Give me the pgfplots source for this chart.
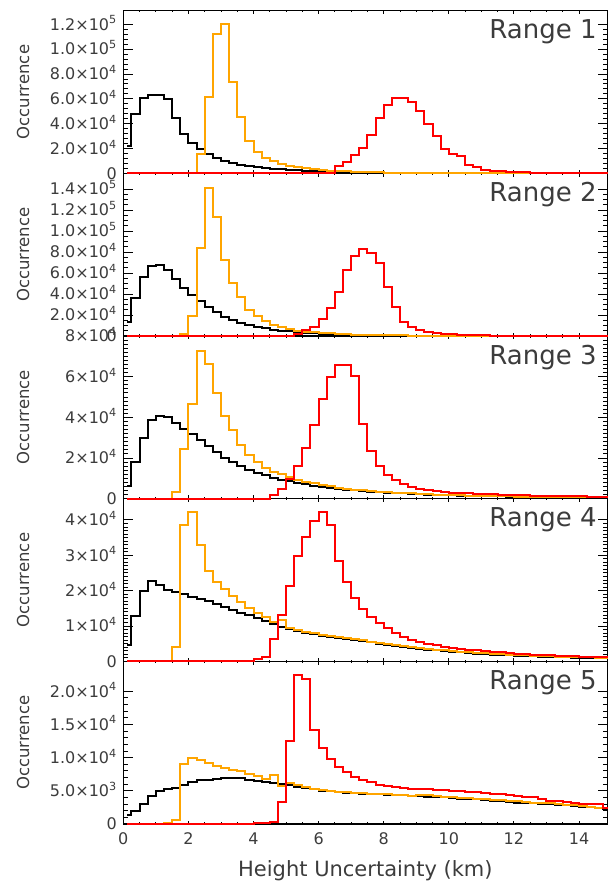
\documentclass[border=0pt]{standalone}
\usepackage{fontspec}
\setmainfont{DejaVu Sans}
\usepackage{pgfplots}
\pgfplotsset{compat=1.18}
\usepackage{pgfplotstable}
\definecolor{orng}{RGB}{255,165,0}
\definecolor{txt}{RGB}{60,60,60}
\newcommand{\E}[2]{#1×10\textsuperscript{#2}}

% values in thousands of occurrences, bin centres in km
\pgfplotstableread{
x b o r
0.125 21.7 0 0
0.375 47.7 0 0
0.625 60.4 0 0
0.875 63.1 0 0
1.125 63.1 0 0
1.375 59.9 0 0
1.625 44.7 0 0
1.875 32.0 0 0
2.125 24.4 0 0
2.375 19.8 15.7 0
2.625 15.7 61.8 0
2.875 12.5 111.9 0
3.125 10.3 120.0 0
3.375 8.4 73.2 0
3.625 6.8 45.5 0
3.875 5.8 25.7 0
4.125 5.0 17.1 0
4.375 4.3 12.5 0
4.625 3.7 9.8 0
4.875 3.2 7.6 0
5.125 2.7 6.2 0
5.375 2.3 4.9 0
5.625 2.0 4.0 0
5.875 1.7 3.3 0
6.125 1.4 2.7 0
6.375 1.2 2.2 0
6.625 1.0 1.8 5.7
6.875 0.85 1.5 8.9
7.125 0.7 1.2 14.4
7.375 0.6 1.0 20.3
7.625 0.5 0.8 30.6
7.875 0.42 0.7 44.2
8.125 0.35 0.6 55.0
8.375 0.3 0.5 61.0
8.625 0.25 0.4 60.5
8.875 0.2 0.35 57.7
9.125 0.18 0.3 50.4
9.375 0.15 0.25 39.6
9.625 0.13 0.2 29.8
9.875 0.11 0.18 19.8
10.125 0.1 0.15 15.2
10.375 0.1 0.13 13.6
10.625 0.09 0.11 7.0
10.875 0.08 0.1 4.9
11.125 0.07 0.09 3.0
11.375 0.06 0.08 2.2
11.625 0.05 0.07 1.6
11.875 0.05 0.06 1.2
12.125 0.04 0.05 0.9
12.375 0.04 0.05 0.7
12.625 0.03 0.04 0.5
12.875 0.03 0.04 0.4
13.125 0.03 0.03 0.3
13.375 0.02 0.03 0.25
13.625 0.02 0.03 0.2
13.875 0.02 0.02 0.15
14.125 0.02 0.02 0.12
14.375 0.01 0.02 0.1
14.625 0.01 0.02 0.08
14.875 0.01 0.01 0.06
}\tA

\pgfplotstableread{
x b o r
0.125 13.0 0 0
0.375 36.2 0 0
0.625 56.5 0 0
0.875 66.3 0 0
1.125 67.6 0 0
1.375 63.2 0 0
1.625 54.3 0 0
1.875 45.7 2.0 0
2.125 39.4 18.7 0
2.375 33.0 83.8 0
2.625 27.3 141.0 0
2.875 22.5 113.7 0
3.125 18.4 72.4 0
3.375 15.2 50.5 0
3.625 12.7 36.8 0
3.875 10.5 24.8 0
4.125 8.9 18.7 0
4.375 7.4 14.0 0
4.625 6.2 10.8 0
4.875 5.2 8.3 0
5.125 4.4 6.3 0
5.375 3.7 5.1 2.0
5.625 3.1 4.2 5.7
5.875 2.6 3.5 8.9
6.125 2.2 3.0 16.2
6.375 1.8 2.5 26.7
6.625 1.5 2.0 41.6
6.875 1.3 1.7 62.9
7.125 1.1 1.4 76.5
7.375 0.9 1.2 82.9
7.625 0.75 1.0 79.4
7.875 0.6 0.85 69.2
8.125 0.5 0.7 46.3
8.375 0.45 0.6 27.3
8.625 0.4 0.5 13.7
8.875 0.35 0.45 8.3
9.125 0.3 0.4 5.7
9.375 0.25 0.35 4.0
9.625 0.22 0.3 3.0
9.875 0.2 0.25 2.2
10.125 0.17 0.22 1.6
10.375 0.15 0.2 1.2
10.625 0.13 0.18 0.9
10.875 0.12 0.16 0.7
11.125 0.1 0.14 0.5
11.375 0.09 0.12 0.4
11.625 0.08 0.11 0.3
11.875 0.07 0.1 0.25
12.125 0.06 0.09 0.2
12.375 0.06 0.08 0.15
12.625 0.05 0.07 0.12
12.875 0.05 0.06 0.1
13.125 0.04 0.05 0.08
13.375 0.04 0.05 0.07
13.625 0.03 0.04 0.06
13.875 0.03 0.04 0.05
14.125 0.03 0.03 0.04
14.375 0.02 0.03 0.03
14.625 0.02 0.03 0.03
14.875 0.02 0.02 0.02
}\tB

\pgfplotstableread{
x b o r
0.125 6.1 0 0
0.375 18.1 0 0
0.625 30.0 0 0
0.875 38.6 0 0
1.125 40.9 0 0
1.375 40.3 0 0
1.625 37.0 3.3 0
1.875 34.3 24.3 0
2.125 32.0 46.5 0
2.375 29.1 72.8 0
2.625 25.8 66.2 0
2.875 23.0 52.1 0
3.125 20.0 40.6 0
3.375 17.8 33.7 0
3.625 15.9 26.3 0
3.875 14.1 21.4 0
4.125 12.6 18.1 0
4.375 11.4 15.3 0
4.625 10.3 13.1 1.6
4.875 9.4 12.3 4.9
5.125 8.6 10.7 9.9
5.375 7.9 9.3 15.9
5.625 7.1 8.3 25.1
5.875 6.4 7.5 36.2
6.125 5.8 6.6 48.8
6.375 5.3 6.0 60.0
6.625 4.9 5.4 65.7
6.875 4.5 4.9 65.7
7.125 4.1 4.5 60.3
7.375 3.8 4.1 36.5
7.625 3.5 3.8 23.3
7.875 3.2 3.5 15.9
8.125 3.0 3.3 11.5
8.375 2.8 3.0 9.0
8.625 2.6 2.8 7.1
8.875 2.4 2.6 5.8
9.125 2.2 2.4 4.9
9.375 2.0 2.2 4.3
9.625 1.85 2.0 3.8
9.875 1.7 1.9 3.4
10.125 1.6 1.8 3.0
10.375 1.5 1.65 2.8
10.625 1.4 1.5 2.6
10.875 1.3 1.4 2.4
11.125 1.2 1.3 2.2
11.375 1.15 1.2 2.1
11.625 1.1 1.15 2.0
11.875 1.05 1.1 1.85
12.125 1.0 1.05 1.7
12.375 0.95 1.0 1.6
12.625 0.9 0.95 1.5
12.875 0.85 0.9 1.4
13.125 0.8 0.85 1.35
13.375 0.78 0.8 1.3
13.625 0.75 0.78 1.2
13.875 0.72 0.75 1.15
14.125 0.7 0.72 1.1
14.375 0.67 0.7 1.05
14.625 0.65 0.67 1.0
14.875 0.62 0.64 0.95
}\tC

\pgfplotstableread{
x b o r
0.125 4.5 0 0
0.375 12.9 0 0
0.625 20.0 0 0
0.875 22.6 0 0
1.125 21.6 0 0
1.375 20.2 0 0
1.625 19.5 4.0 0
1.875 19.0 38.6 0
2.125 18.3 42.1 0
2.375 17.7 32.9 0
2.625 17.0 25.6 0
2.875 16.2 22.4 0
3.125 15.4 20.5 0
3.375 14.6 18.6 0
3.625 13.8 16.7 0
3.875 13.0 15.0 0
4.125 12.2 13.8 0.7
4.375 11.4 12.5 1.3
4.625 10.6 11.1 6.2
4.875 9.8 11.8 13.2
5.125 9.1 9.3 21.4
5.375 8.6 8.8 29.7
5.625 8.1 8.3 35.1
5.875 7.7 7.9 39.7
6.125 7.3 7.5 42.1
6.375 7.0 7.2 38.6
6.625 6.7 6.9 28.5
6.875 6.4 6.6 22.4
7.125 6.1 6.3 18.0
7.375 5.7 5.9 14.7
7.625 5.4 5.6 12.6
7.875 5.0 5.2 10.9
8.125 4.7 4.9 9.4
8.375 4.4 4.6 8.1
8.625 4.1 4.3 6.9
8.875 3.8 4.0 6.1
9.125 3.5 3.7 5.4
9.375 3.3 3.5 4.9
9.625 3.1 3.3 4.5
9.875 2.9 3.1 4.1
10.125 2.7 2.9 3.8
10.375 2.5 2.7 3.5
10.625 2.35 2.55 3.3
10.875 2.2 2.4 3.1
11.125 2.05 2.25 2.9
11.375 1.9 2.1 2.7
11.625 1.8 2.0 2.5
11.875 1.7 1.9 2.3
12.125 1.6 1.8 2.2
12.375 1.5 1.7 2.0
12.625 1.4 1.6 1.9
12.875 1.3 1.5 1.8
13.125 1.2 1.4 1.7
13.375 1.15 1.3 1.6
13.625 1.1 1.25 1.5
13.875 1.05 1.2 1.4
14.125 1.0 1.15 1.3
14.375 0.95 1.1 1.2
14.625 0.9 1.05 1.2
14.875 0.85 1.0 1.1
}\tD

\pgfplotstableread{
x b o r
0.125 1.4 0 0
0.375 2.0 0 0
0.625 3.0 0 0
0.875 4.2 0 0
1.125 5.0 0 0
1.375 5.2 0.2 0
1.625 5.4 0.6 0
1.875 5.9 9.06 0
2.125 6.4 9.87 0
2.375 6.6 9.62 0
2.625 6.7 9.2 0
2.875 6.8 8.8 0
3.125 7.0 8.45 0
3.375 7.0 8.2 0
3.625 6.9 7.95 0
3.875 6.7 7.6 0
4.125 6.5 7.3 0.1
4.375 6.35 6.8 0.15
4.625 6.2 7.45 0.35
4.875 6.0 5.77 3.24
5.125 5.8 6.18 12.5
5.375 5.6 5.9 22.5
5.625 5.4 5.57 21.8
5.875 5.2 5.3 14.2
6.125 5.0 5.1 11.5
6.375 4.9 4.95 9.82
6.625 4.8 4.85 8.6
6.875 4.7 4.75 7.8
7.125 4.6 4.65 7.1
7.375 4.55 4.6 6.7
7.625 4.5 4.55 6.3
7.875 4.45 4.5 5.9
8.125 4.4 4.45 5.67
8.375 4.35 4.4 5.5
8.625 4.3 4.3 5.4
8.875 4.25 4.25 5.3
9.125 4.2 4.3 5.25
9.375 4.1 4.3 5.2
9.625 4.05 4.2 5.1
9.875 4.0 4.1 5.15
10.125 3.9 4.0 5.0
10.375 3.8 3.95 4.95
10.625 3.75 3.9 4.85
10.875 3.7 3.8 4.75
11.125 3.6 3.75 4.65
11.375 3.5 3.65 4.55
11.625 3.45 3.6 4.45
11.875 3.35 3.5 4.35
12.125 3.2 3.4 4.2
12.375 3.15 3.3 4.1
12.625 3.1 3.2 4.0
12.875 3.0 3.15 3.8
13.125 2.95 3.1 3.5
13.375 2.9 3.0 3.4
13.625 2.8 2.9 3.3
13.875 2.7 2.8 3.2
14.125 2.6 2.7 3.05
14.375 2.5 2.55 3.0
14.625 2.4 2.45 3.0
14.875 2.3 2.35 2.4
}\tE

\pgfplotsset{
  base/.style={scale only axis, width=484.2pt, height=162.66pt,
    xmin=0, xmax=14.875, anchor=south west, clip=false,
    axis line style={line width=1.2pt, black},
    tick align=inside, xtick pos=both, ytick pos=both,
    every tick/.style={black, line width=0.9pt},
    ticklabel style={txt}},
  xax/.style={base, ytick=\empty, xtick={0,2,...,14}, minor x tick num=3,
    major tick length=3.3pt, minor tick length=1.7pt, xticklabels={}},
  yax/.style={base, xtick=\empty, major tick length=9.7pt, minor tick length=4.8pt,
    scaled y ticks=false,
    yticklabel style={font=\fontsize{16}{19}\selectfont, anchor=base east, yshift=-5.8pt, xshift=-3pt},
    ylabel={Occurrence},
    ylabel style={at={(axis description cs:-0.207,0.5)}, anchor=center,
      font=\fontsize{16.5}{20}\selectfont, txt}},
  ser/.style={const plot mark mid, no markers, line width=2pt},
}
\newcommand{\rng}[1]{\node[anchor=base east, inner sep=0pt, font=\fontsize{26}{30}\selectfont, txt] at (rel axis cs:0.978,0.826) {Range #1};}

\begin{document}
\begin{tikzpicture}
\useasboundingbox (0,0) rectangle (615pt,885pt);

% Panel 5
\begin{axis}[xax, at={(123.3pt,61pt)}, ymin=0, ymax=24.5,
  xticklabels={0,2,4,6,8,10,12,14},
  xticklabel style={font=\fontsize{16}{19}\selectfont, anchor=base, yshift=-21pt},
  xlabel={Height Uncertainty (km)},
  xlabel style={at={(axis description cs:0.5,-0.324)}, anchor=base,
    font=\fontsize{21}{25}\selectfont, txt}]
\end{axis}
\begin{axis}[yax, at={(123.3pt,61pt)}, ymin=0, ymax=24.5,
  ytick={0,5,10,15,20}, minor y tick num=4,
  yticklabels={0,\E{5.0}{3},\E{1.0}{4},\E{1.5}{4},\E{2.0}{4}}]
\addplot[ser, black] table[x=x,y=b]{\tE};
\addplot[ser, orng] table[x=x,y=o]{\tE};
\addplot[ser, red] table[x=x,y=r]{\tE};
\rng{5}
\end{axis}

% Panel 4
\begin{axis}[xax, at={(123.3pt,223.66pt)}, ymin=0, ymax=46]
\end{axis}
\begin{axis}[yax, at={(123.3pt,223.66pt)}, ymin=0, ymax=46,
  ytick={0,10,20,30,40}, minor y tick num=9,
  yticklabels={0,\E{1}{4},\E{2}{4},\E{3}{4},\E{4}{4}}]
\addplot[ser, black] table[x=x,y=b]{\tD};
\addplot[ser, orng] table[x=x,y=o]{\tD};
\addplot[ser, red] table[x=x,y=r]{\tD};
\rng{4}
\end{axis}

% Panel 3
\begin{axis}[xax, at={(123.3pt,386.32pt)}, ymin=0, ymax=80]
\end{axis}
\begin{axis}[yax, at={(123.3pt,386.32pt)}, ymin=0, ymax=80,
  ytick={0,20,40,60,80}, minor y tick num=9,
  yticklabels={0,\E{2}{4},\E{4}{4},\E{6}{4},\E{8}{4}}]
\addplot[ser, black] table[x=x,y=b]{\tC};
\addplot[ser, orng] table[x=x,y=o]{\tC};
\addplot[ser, red] table[x=x,y=r]{\tC};
\rng{3}
\end{axis}

% Panel 2
\begin{axis}[xax, at={(123.3pt,548.98pt)}, ymin=0, ymax=155]
\end{axis}
\begin{axis}[yax, at={(123.3pt,548.98pt)}, ymin=0, ymax=155,
  ytick={0,20,40,60,80,100,120,140}, minor y tick num=3,
  yticklabels={0,\E{2.0}{4},\E{4.0}{4},\E{6.0}{4},\E{8.0}{4},\E{1.0}{5},\E{1.2}{5},\E{1.4}{5}}]
\addplot[ser, black] table[x=x,y=b]{\tB};
\addplot[ser, orng] table[x=x,y=o]{\tB};
\addplot[ser, red] table[x=x,y=r]{\tB};
\rng{2}
\end{axis}

% Panel 1
\begin{axis}[xax, at={(123.3pt,711.64pt)}, ymin=0, ymax=131]
\end{axis}
\begin{axis}[yax, at={(123.3pt,711.64pt)}, ymin=0, ymax=131,
  ytick={0,20,40,60,80,100,120}, minor y tick num=4,
  yticklabels={0,\E{2.0}{4},\E{4.0}{4},\E{6.0}{4},\E{8.0}{4},\E{1.0}{5},\E{1.2}{5}}]
\addplot[ser, black] table[x=x,y=b]{\tA};
\addplot[ser, orng] table[x=x,y=o]{\tA};
\addplot[ser, red] table[x=x,y=r]{\tA};
\rng{1}
\end{axis}
\end{tikzpicture}
\end{document}
